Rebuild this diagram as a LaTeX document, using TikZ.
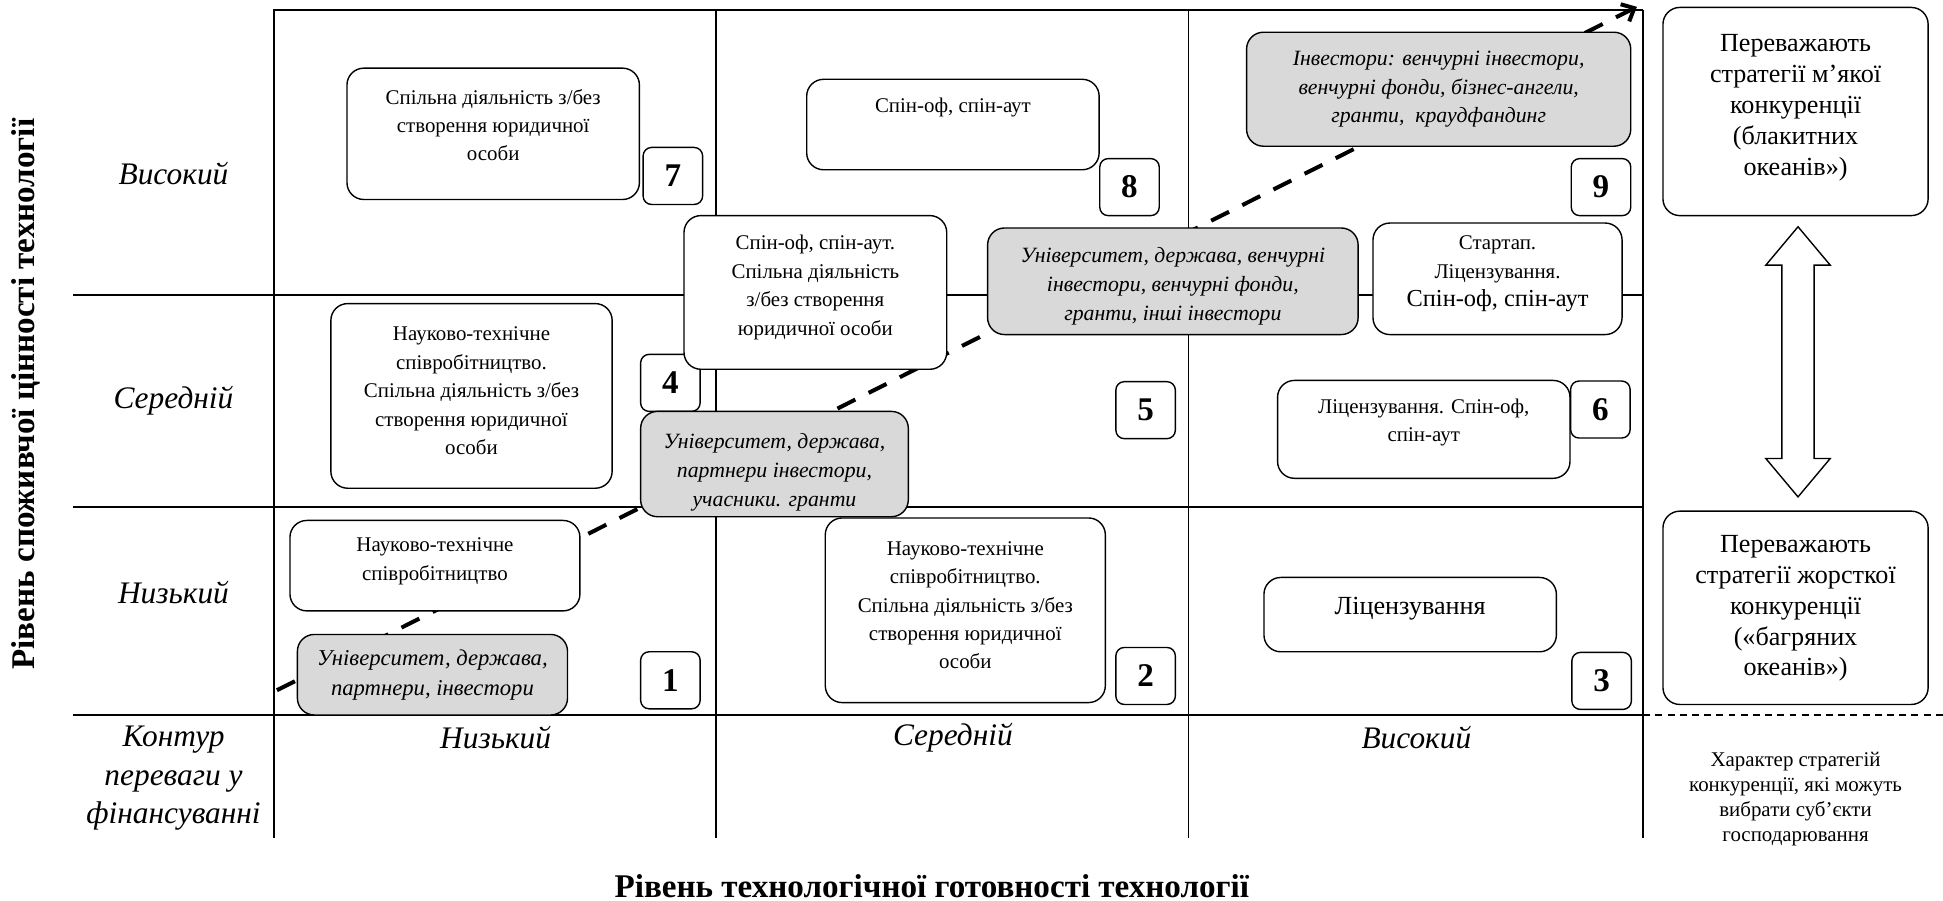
\documentclass[tikz,border=0pt]{standalone}
\usepackage{fontspec}
\setmainfont{Liberation Serif}
\usetikzlibrary{arrows.meta}
\definecolor{boxgray}{RGB}{217,217,217}
\tikzset{
frame/.style={line width=1.4pt}, % outer frame and row borders
cell line/.style={line width=0.9pt}, % borders between the columns
box/.style={draw, line width=0.8pt, rounded corners=0.34cm, fill=white, inner sep=0pt},
shaded/.style={box, fill=boxgray}, % boxes naming who finances
num/.style={draw, line width=0.8pt, rounded corners=0.17cm, fill=white, inner sep=0pt,
  minimum width=1.2cm, minimum height=1.15cm, font=\fontsize{19}{20}\selectfont\bfseries},
sz/.style 2 args={minimum width=#1*0.025cm, minimum height=#2*0.025cm},
txt/.style={align=center, inner sep=0pt, font=\fontsize{12}{16.3}\selectfont},
itxt/.style={align=center, inner sep=0pt, font=\fontsize{12.5}{16.5}\selectfont\itshape},
level/.style={align=center, inner sep=0pt, font=\fontsize{18}{22.3}\selectfont\itshape},
axis/.style={inner sep=0pt, font=\fontsize{19}{21}\selectfont\bfseries},
side/.style={align=center, inner sep=0pt, font=\fontsize{15}{17.7}\selectfont},
flow/.style={line width=2.3pt, dash pattern=on 11.5pt off 8.5pt,
  -{Straight Barb[length=6pt, width=11pt]}}, % path of financing
}

\begin{document}
\begin{tikzpicture}[x=0.025cm, y=-0.025cm]
\useasboundingbox (0,0) rectangle (1568,727);

% matrix 3x3
\draw[frame] (221,676) -- (221,8) -- (1326,8);
\draw[cell line] (578,8) -- (578,676);
\draw[cell line] (959,8) -- (959,676);
\draw[line width=1.2pt] (1326,8) -- (1326,676);
\draw[frame] (59,238) -- (1326,238);
\draw[frame] (59,409) -- (1326,409);
\draw[frame] (59,577) -- (1326,577);
\draw[line width=0.7pt, dash pattern=on 4pt off 3pt] (1326,577) -- (1568,577);

% financing path
\coordinate (fstart) at (223.5,557);
\coordinate (fend) at (1321,5.5);
\draw[flow] (fstart) -- (fend);

% high value row
\node[box, sz={236}{106}] (b7) at (398,108) {};
\node[txt] (t7) at (398,101) {Спільна діяльність з/без\\створення юридичної\\особи};
\node[num] (n7) at (543,142) {7};
\node[box, sz={236}{73}] (b8) at (769,100.5) {};
\node[txt] (t8) at (769,87) {Спін-оф, спін-аут};
\node[num] (n8) at (911.5,151) {8};
\node[shaded, sz={310}{92}] (g9) at (1161,72) {};
\node[itxt] (tg9) at (1161,72) {Інвестори: венчурні інвестори,\\венчурні фонди, бізнес-ангели,\\гранти,~ краудфандинг};
\node[num] (n9) at (1292,151) {9};

% medium value row
\node[box, sz={227}{149}] (b4) at (380.5,319.5) {};
\node[txt] (t4) at (380.5,315.5) {Науково-технічне\\співробітництво.\\Спільна діяльність з/без\\створення юридичної\\особи};
\node[num] (n4) at (541,309) {4};
\node[box, sz={212}{124}] (b48) at (658,236) {};
\node[txt] (t48) at (658,232) {Спін-оф, спін-аут.\\Спільна діяльність\\з/без створення\\юридичної особи};
\node[shaded, sz={299}{86}] (g5) at (946.5,227) {};
\node[itxt] (tg5) at (946.5,231) {Університет, держава, венчурні\\інвестори, венчурні фонди,\\гранти, інші інвестори};
\node[box, sz={201}{90}] (b69) at (1208.5,225) {};
\node[txt] (t69) at (1208.5,221) {Стартап.\\Ліцензування.\\{\fontsize{14}{16.3}\selectfont Спін-оф, спін-аут}};
\node[num] (n5) at (924.5,331) {5};
\node[box, sz={236}{79}] (b6) at (1149,346.5) {};
\node[txt] (t6) at (1149,341) {Ліцензування. Спін-оф,\\спін-аут};
\node[num] (n6) at (1291.5,330.5) {6};
\node[shaded, sz={216}{85}] (g4) at (625,374.5) {};
\node[itxt] (tg4) at (625,381) {Університет, держава,\\партнери інвестори,\\учасники. гранти};

% low value row
\node[box, sz={234}{73}] (b1) at (351,456.5) {};
\node[txt] (t1) at (351,453) {Науково-технічне\\співробітництво};
\node[shaded, sz={218}{65}] (g1) at (349,544.5) {};
\node[itxt, font=\fontsize{13}{17}\selectfont\itshape] (tg1) at (349,545) {Університет, держава,\\партнери, інвестори};
\node[num] (n1) at (541,549) {1};
\node[box, sz={226}{149}] (b2) at (779,492.5) {};
\node[txt] (t2) at (779,488.5) {Науково-технічне\\співробітництво.\\Спільна діяльність з/без\\створення юридичної\\особи};
\node[num] (n2) at (924.5,545.5) {2};
\node[box, sz={236}{60}] (b3) at (1138,496) {};
\node[txt, font=\fontsize{15}{17}\selectfont] (t3) at (1138,491) {Ліцензування};
\node[num] (n3) at (1292.5,549.5) {3};

% levels of consumer value
\node[level] (high) at (140,140) {Високий};
\node[level] (mid) at (140,323) {Середній};
\node[level] (low) at (140,478) {Низький};
\node[level] (contour) at (140,628) {Контур\\переваги у\\фінансуванні};

% levels of readiness
\node[level] (rlow) at (400,595) {Низький};
\node[level] (rmid) at (769,595) {Середній};
\node[level] (rhigh) at (1143,595) {Високий};

% axes
\node[axis, rotate=90] (yaxis) at (21,318) {Рівень споживчої цінності технології};
\node[axis] (xaxis) at (752,715) {Рівень технологічної готовності технології};

% competition strategies
\node[box, sz={214}{168}] (blue) at (1449,90) {};
\node[side] (tblue) at (1449,87) {Переважають\\стратегії м’якої\\конкуренції\\(блакитних\\океанів»)};
\node[box, sz={214}{156}] (red) at (1449,490.5) {};
\node[side] (tred) at (1449,491) {Переважають\\стратегії жорсткої\\конкуренції\\(«багряних\\океанів»)};
\draw[line width=0.8pt, fill=white] (1451,183) -- (1477,214) -- (1464,214) -- (1464,370) -- (1477,370)
  -- (1451,401) -- (1425,370) -- (1438,370) -- (1438,214) -- (1425,214) -- cycle;
\node[txt, font=\fontsize{12}{14.4}\selectfont] (tnote) at (1449,645) {Характер стратегій\\конкуренції, які можуть\\вибрати суб’єкти\\господарювання};
\end{tikzpicture}
\end{document}
